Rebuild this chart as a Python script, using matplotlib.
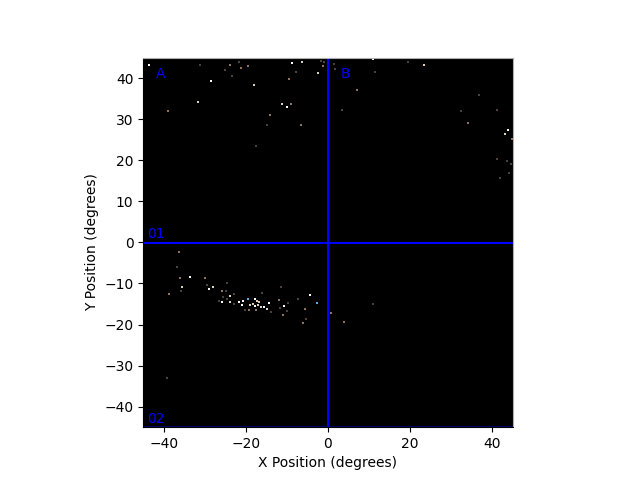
import matplotlib
matplotlib.use('Agg')
import matplotlib.pyplot as plt

# star positions in degrees, grouped by how bright they look
white_x = [-43.7, -28.5, -8.8, -10.1, 11.0, 43.8, -33.6, -29.0, -4.4, -25.8, -21.7, -20.7, -20.9, -17.8, -17.8, -15.7, -14.4, -10.7]
white_y = [43.3, 39.4, 43.7, 33.0, 44.6, 27.4, -8.4, -11.3, -12.9, -14.4, -14.4, -14.2, -15.2, -13.9, -15.5, -15.7, -14.7, -15.5]

bright_x = [-18.1, -31.7, -11.3, 43.1, -6.3, -2.4, 23.4, -35.5, -28.1, -23.9, -18.3, -17.4, -16.7, -17.0, -16.4, -19.0, -14.9, -23.9]
bright_y = [38.4, 34.3, 33.8, 26.3, 44.0, 41.3, 43.3, -10.9, -10.9, -13.1, -15.0, -14.2, -14.4, -15.2, -15.7, -15.2, -16.3, -14.4]

tan_x = [-23.9, -21.2, -19.5, -1.2, -9.0, -14.1, 7.1, 34.1, 44.8, -9.5, -36.2, -36.0, -29.9, -25.9, -38.6, -11.9, -11.0, -6.1, -17.6, -19.2, 0.7, 4.0, -39.0, -6.6, -5.6]
tan_y = [43.3, 42.5, 42.9, 43.0, 33.8, 31.1, 37.2, 29.1, 25.1, 39.8, -2.3, -8.7, -8.7, -11.9, -12.6, -14.0, -17.7, -19.7, -16.5, -16.5, -17.1, -19.3, 32.1, 28.5, -16.1]

dim_x = [-31.2, -21.6, -25.1, -23.3, -1.7, -0.9, -7.7, -14.9, -17.6, 19.6, 1.5, 1.7, 11.5, 3.5, 36.8, 32.4, 41.2, 41.2, 43.7, 44.6, 44.1, 42.0, -36.7, -29.4, -24.7, -35.9, -24.8, -22.9, -25.6, -24.7, -26.6, -22.8, -16.1, -20.2, -14.0, -9.7, -7.2, -11.7, -10.1, -5.4, -11.4, -39.3, 11.0]
dim_y = [43.2, 43.9, 41.9, 40.4, 44.1, 43.9, 41.4, 28.5, 23.4, 43.9, 43.4, 42.3, 41.4, 32.2, 35.8, 32.1, 32.2, 20.2, 19.7, 19.2, 16.8, 15.8, -6.1, -10.4, -10.0, -11.9, -11.8, -12.5, -13.2, -13.9, -14.3, -15.1, -12.4, -16.5, -16.9, -14.8, -13.9, -16.0, -16.8, -18.7, -10.9, -32.9, -14.9]

blue_x = [-2.6, -19.5]
blue_y = [-14.8, -13.8]

fig, ax = plt.subplots()
ax.set_facecolor('black')

ax.scatter(dim_x, dim_y, s=0.6, marker='s', c='#4a423b', linewidths=0)
ax.scatter(tan_x, tan_y, s=1.0, marker='s', c='#8f7259', linewidths=0)
ax.scatter(bright_x, bright_y, s=1.5, marker='s', c='#e0cdb6', linewidths=0)
ax.scatter(white_x, white_y, s=2.0, marker='s', c='#fdfaf5', linewidths=0)
ax.scatter(blue_x, blue_y, s=1.5, marker='s', c='#5aa8e0', linewidths=0)

# centre lines sit a touch off zero in the reference
ax.axhline(-0.1, color='blue')
ax.axvline(0.1, color='blue')
# the outer ones only just show past the frame
ax.axhline(-45, color='#000090', lw=1.1)
ax.axvline(-45, color='#000090', lw=1.1)

ax.text(-42, 41, 'A', color='blue', va='center')
ax.text(3, 41, 'B', color='blue', va='center')
ax.text(-44, 2, '01', color='blue', va='center')
ax.text(-44, -43, '02', color='blue', va='center')

ax.set_xlim(-45, 45)
ax.set_ylim(-45, 45)
ax.set_aspect('equal')
ax.set_xlabel('X Position (degrees)')
ax.set_ylabel('Y Position (degrees)')
ax.spines['top'].set_color('#b0b0b0')
ax.spines['right'].set_color('#b0b0b0')

fig.savefig('out.png', dpi=100)
